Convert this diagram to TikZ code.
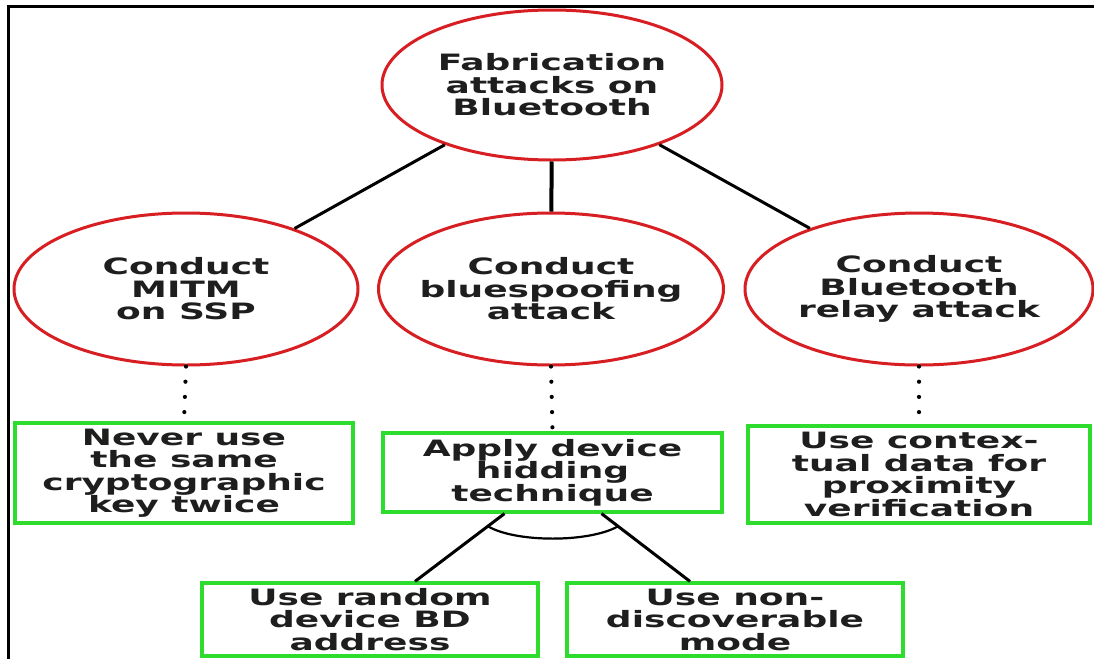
\documentclass[tikz,border=0pt]{standalone}
\usepackage{fontspec}
\newfontfamily\dvfont{DejaVu Sans}[FakeStretch=1.6]
\usetikzlibrary{shapes.geometric,calc}
\definecolor{ellred}{RGB}{215,30,35}
\definecolor{boxgreen}{RGB}{45,220,45}
\definecolor{txt}{RGB}{30,30,30}
\begin{document}
\begin{tikzpicture}[x=1pt,y=-1pt,
  every node/.style={font=\dvfont\bfseries\fontsize{22.5}{22.5}\selectfont, text=txt, align=center},
  attack/.style={ellipse, draw=ellred, line width=3pt, inner xsep=-24pt, inner ysep=-4pt},
  counter/.style={rectangle, draw=boxgreen, line width=3.2pt, inner sep=0pt},
  link/.style={draw=black, line width=3pt},
  dotlink/.style={draw=black, line width=4.2pt, line cap=round, dash pattern=on 0pt off 15.2pt}]
\useasboundingbox (0,0) rectangle (1094,659);
\fill[white] (0,0) rectangle (1094,659);
\draw[line width=3pt] (8,659) -- (8,6) -- (1094,6);

\node[attack, minimum width=340pt, minimum height=150pt] (root) at (552,85) {Fabrication\\attacks on\\Bluetooth};
\node[attack, minimum width=344pt, minimum height=152pt] (mitm) at (186,289) {Conduct\\MITM\\on SSP};
\node[attack, minimum width=345pt, minimum height=152pt] (spoof) at (551,289) {Conduct\\bluespoofing\\attack};
\node[attack, minimum width=348pt, minimum height=152pt] (relay) at (919,289) {Conduct\\Bluetooth\\relay attack};

\node[counter, minimum width=338pt, minimum height=100pt] (key) at (184,473) {Never use\\the same\\cryptographic\\key twice};
\node[counter, minimum width=339pt, minimum height=79pt] (hide) at (552.5,472.5) {Apply device\\hidding\\technique};
\node[counter, minimum width=342pt, minimum height=97pt] (ctx) at (919,474.5) {Use contex-\\tual data for\\proximity\\verification};
\node[counter, minimum width=336pt, minimum height=73pt] (rand) at (370,619.5) {Use random\\device BD\\address};
\node[counter, minimum width=336pt, minimum height=73pt] (nondisc) at (735,619.5) {Use non-\\discoverable\\mode};

\draw[link] (root) -- (mitm);
\draw[link, line width=4pt] (root) -- (spoof);
\draw[link] (root) -- (relay);

\draw[dotlink] (mitm.south) -- (key.north);
\draw[dotlink] (spoof.south) -- (hide.north);
\draw[dotlink] (relay.south) -- (ctx.north);

\draw[link] ([xshift=-48pt]hide.south) -- ([xshift=45pt]rand.north);
\draw[link] ([xshift=49pt]hide.south) -- ([xshift=-45pt]nondisc.north);
\draw[line width=2.2pt] ($(hide.south)+(-64,13)$) .. controls ($(hide.south)+(-36,29)$) and ($(hide.south)+(36,29)$) .. ($(hide.south)+(65,13)$);
\end{tikzpicture}
\end{document}
